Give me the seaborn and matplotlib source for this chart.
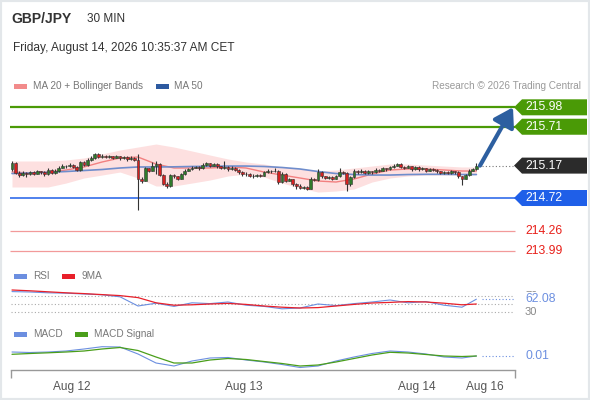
import numpy as np
import matplotlib
matplotlib.use("Agg")
import matplotlib.pyplot as plt
from matplotlib.patches import Polygon, Rectangle
import seaborn as sns

# ============================================
# DATA - GBP/JPY 30 min candles
# ============================================

opens = [215.12, 215.21, 215.07, 215.04, 215.07, 215.05, 215.08, 215.06, 215.09, 215.08,
         215.05, 215.11, 215.07, 215.10, 215.14, 215.17, 215.16, 215.18, 215.15, 215.11,
         215.22, 215.18, 215.25, 215.27, 215.33, 215.29, 215.31, 215.29, 215.30, 215.28,
         215.30, 215.27, 215.29, 215.26, 215.28, 215.25, 214.98, 214.96, 215.13, 215.10,
         215.17, 215.19, 215.04, 214.92, 214.89, 215.04, 215.02, 214.99, 215.05, 215.10,
         215.12, 215.14, 215.15, 215.13, 215.18, 215.20, 215.17, 215.19, 215.16, 215.13,
         215.15, 215.12, 215.14, 215.11, 215.08, 215.05, 215.06, 215.03, 215.02, 215.04,
         215.03, 215.08, 215.10, 215.09, 215.10, 214.94, 215.06, 214.96, 214.98, 214.92,
         214.88, 214.86, 214.87, 214.85, 214.99, 214.97, 215.08, 215.02, 215.00, 215.01,
         214.99, 215.02, 215.08, 215.07, 214.91, 215.01, 215.10, 215.08, 215.10, 215.07,
         215.09, 215.08, 215.11, 215.10, 215.13, 215.12, 215.15, 215.17, 215.19, 215.15,
         215.14, 215.16, 215.12, 215.15, 215.12, 215.13, 215.10, 215.12, 215.11, 215.09,
         215.07, 215.08, 215.07, 215.09, 215.08, 215.02, 214.99, 215.04, 215.10, 215.12]
highs = [215.23, 215.22, 215.09, 215.09, 215.08, 215.10, 215.09, 215.11, 215.10, 215.09,
         215.13, 215.12, 215.12, 215.16, 215.19, 215.18, 215.20, 215.19, 215.16, 215.24,
         215.23, 215.27, 215.30, 215.35, 215.34, 215.33, 215.32, 215.32, 215.31, 215.32,
         215.31, 215.31, 215.30, 215.30, 215.29, 215.33, 215.01, 215.15, 215.14, 215.22,
         215.24, 215.21, 215.05, 214.94, 215.06, 215.06, 215.03, 215.07, 215.12, 215.14,
         215.16, 215.17, 215.16, 215.21, 215.22, 215.21, 215.21, 215.20, 215.17, 215.24,
         215.16, 215.16, 215.15, 215.12, 215.09, 215.08, 215.07, 215.05, 215.06, 215.05,
         215.10, 215.12, 215.11, 215.14, 215.11, 215.08, 215.07, 215.00, 214.99, 214.93,
         214.92, 214.89, 214.88, 215.01, 215.00, 215.12, 215.09, 215.03, 215.03, 215.02,
         215.04, 215.13, 215.10, 215.08, 215.03, 215.12, 215.11, 215.12, 215.11, 215.11,
         215.10, 215.13, 215.12, 215.15, 215.14, 215.17, 215.19, 215.21, 215.20, 215.16,
         215.18, 215.17, 215.17, 215.16, 215.15, 215.14, 215.14, 215.13, 215.12, 215.10,
         215.10, 215.09, 215.11, 215.10, 215.09, 215.03, 215.06, 215.12, 215.14, 215.21]
lows = [215.10, 215.05, 215.01, 215.02, 215.01, 215.04, 215.04, 215.05, 215.06, 215.03,
        215.04, 215.06, 215.06, 215.08, 215.13, 215.14, 215.15, 215.14, 215.09, 215.10,
        215.16, 215.17, 215.24, 215.26, 215.28, 215.27, 215.27, 215.28, 215.26, 215.27,
        215.25, 215.26, 215.24, 215.25, 215.24, 214.56, 214.93, 214.95, 215.08, 215.09,
        215.05, 215.02, 214.90, 214.86, 214.87, 215.00, 214.97, 214.98, 215.04, 215.09,
        215.11, 215.13, 215.11, 215.12, 215.16, 215.15, 215.16, 215.14, 215.12, 215.12,
        215.10, 215.11, 215.09, 215.06, 215.03, 215.03, 215.01, 215.00, 215.01, 215.01,
        215.02, 215.07, 215.07, 215.08, 214.91, 214.93, 214.94, 214.95, 214.89, 214.85,
        214.84, 214.85, 214.83, 214.84, 214.95, 214.96, 215.00, 214.98, 214.99, 214.97,
        214.98, 215.01, 215.05, 214.82, 214.89, 215.00, 215.06, 215.07, 215.05, 215.06,
        215.06, 215.07, 215.08, 215.09, 215.10, 215.11, 215.14, 215.16, 215.13, 215.12,
        215.13, 215.10, 215.11, 215.10, 215.11, 215.08, 215.09, 215.09, 215.07, 215.05,
        215.06, 215.05, 215.06, 215.06, 215.00, 214.90, 214.98, 215.03, 215.09, 215.11]
closes = [215.21, 215.07, 215.04, 215.07, 215.05, 215.08, 215.06, 215.09, 215.08, 215.05,
          215.11, 215.07, 215.10, 215.14, 215.17, 215.16, 215.18, 215.15, 215.11, 215.22,
          215.18, 215.25, 215.27, 215.33, 215.29, 215.31, 215.29, 215.30, 215.28, 215.30,
          215.27, 215.29, 215.26, 215.28, 215.25, 214.98, 214.96, 215.13, 215.10, 215.17,
          215.19, 215.04, 214.92, 214.89, 215.04, 215.02, 214.99, 215.05, 215.10, 215.12,
          215.14, 215.15, 215.13, 215.18, 215.20, 215.17, 215.19, 215.16, 215.13, 215.15,
          215.12, 215.14, 215.11, 215.08, 215.05, 215.06, 215.03, 215.02, 215.04, 215.03,
          215.08, 215.10, 215.09, 215.10, 214.94, 215.06, 214.96, 214.98, 214.92, 214.88,
          214.86, 214.87, 214.85, 214.99, 214.97, 215.08, 215.02, 215.00, 215.01, 214.99,
          215.02, 215.08, 215.07, 214.91, 215.01, 215.10, 215.08, 215.10, 215.07, 215.09,
          215.08, 215.11, 215.10, 215.13, 215.12, 215.15, 215.17, 215.19, 215.15, 215.14,
          215.16, 215.12, 215.15, 215.12, 215.13, 215.10, 215.12, 215.11, 215.09, 215.07,
          215.08, 215.07, 215.09, 215.08, 215.02, 214.99, 215.04, 215.10, 215.12, 215.17]

# indicators, sampled every 5 candles
ma_idx = [0, 5, 10, 15, 20, 25, 30, 35, 40, 45, 50, 55, 60, 65, 70, 75, 80, 85, 90,
          95, 100, 105, 110, 115, 120, 125, 129]
ma20 = [215.081, 215.067, 215.081, 215.109, 215.151, 215.220, 215.276, 215.289, 215.192,
        215.137, 215.137, 215.137, 215.151, 215.137, 215.081, 215.039, 214.998, 214.956,
        214.942, 214.984, 215.053, 215.109, 215.123, 215.123, 215.109, 215.095, 215.095]
bb_upper = [215.234, 215.234, 215.234, 215.248, 215.276, 215.331, 215.387, 215.428, 215.470,
            215.428, 215.373, 215.317, 215.262, 215.220, 215.192, 215.151, 215.123, 215.095,
            215.109, 215.137, 215.164, 215.192, 215.192, 215.178, 215.164, 215.151, 215.151]
bb_lower = [214.873, 214.873, 214.873, 214.928, 214.998, 215.039, 215.081, 214.998, 214.887,
            214.887, 214.928, 214.970, 215.026, 215.053, 215.012, 214.928, 214.859, 214.803,
            214.817, 214.845, 214.942, 214.998, 215.026, 215.039, 215.039, 215.039, 215.053]
ma50 = [215.060, 215.067, 215.077, 215.088, 215.102, 215.116, 215.137, 215.151, 215.151,
        215.153, 215.158, 215.160, 215.164, 215.164, 215.158, 215.144, 215.123, 215.088,
        215.060, 215.046, 215.039, 215.039, 215.046, 215.049, 215.049, 215.046, 215.046]

rsi = [81, 80, 78, 77, 75, 73, 68, 45, 52, 44, 53, 51, 55, 47, 44, 38, 40, 50, 46, 51,
       55, 60, 53, 56, 47, 42, 62.08]
rsi_ma9 = [85, 83, 80.5, 78, 76, 73.5, 71, 66, 53, 47, 48, 50, 51.5, 49, 45, 42, 40, 41,
           45, 49, 52.5, 54, 56, 55, 52, 48, 50]
macd = [0.030, 0.0275, 0.030, 0.035, 0.045, 0.0565, 0.055, 0.020, -0.025, -0.040, -0.015,
        0.000, 0.0025, -0.010, -0.020, -0.0325, -0.0475, -0.040, -0.015, 0.005, 0.0225,
        0.035, 0.030, 0.020, 0.005, 0.000, 0.010]
macd_signal = [0.0185, 0.0225, 0.026, 0.030, 0.035, 0.045, 0.0525, 0.0375, 0.005, -0.025,
               -0.025, -0.010, -0.0025, -0.0075, -0.0175, -0.0275, -0.040, -0.035, -0.020,
               -0.0025, 0.015, 0.0285, 0.025, 0.0175, 0.010, 0.0075, 0.010]

date_ticks = [16.5, 64.5, 112.5, 131.4]
date_labels = ["Aug 12", "Aug 13", "Aug 14", "Aug 16"]

resistances = [215.98, 215.71]
last_price = 215.17
pivot = 214.72
supports = [214.26, 213.99]
rsi_levels = [70, 50, 30]
rsi_last = 62.08
macd_last = 0.01

# ============================================
# STYLE / LAYOUT
# ============================================

sns.set_theme(style="white")
plt.rcParams["font.family"] = ["Liberation Sans", "DejaVu Sans"]

GREEN = "#2f7a2a"
RED = "#d42020"
LVL_GREEN = "#4a9a06"
LVL_BLUE = "#1f5fe8"
LVL_RED = "#f29a9a"
DARK = "#2b2b2b"
RSI_BLUE = "#6c8fe0"
TXT = "#333333"

W, H = 590, 400
X0, STEP = 12, 3.6          # pixel of first candle, pixels per candle


def xi(px):
    return (px - X0) / STEP


def fy(py):
    return 1 - py / H


fig = plt.figure(figsize=(W / 100, H / 100), dpi=100)
fig.patch.set_facecolor("white")
fig.add_artist(Rectangle((0, 0), 1, 1, transform=fig.transFigure, fill=False,
                         edgecolor="#e3e7ea", linewidth=3))

# ---- header ----
fig.text(11 / W, fy(19), "GBP/JPY", fontsize=10, fontweight="bold", color=TXT, va="center")
fig.text(87 / W, fy(19), "30 MIN", fontsize=8.5, color=TXT, va="center")
fig.text(13 / W, fy(48.5), "Friday, August 14, 2026 10:35:37 AM CET", fontsize=8.6,
         color=TXT, va="center")


def legend_item(px, py, color, label, text_px):
    fig.add_artist(Rectangle((px / W, fy(py + 2.5)), 13 / W, 5 / H, transform=fig.transFigure,
                             facecolor=color, edgecolor="none"))
    fig.text(text_px / W, fy(py), label, fontsize=7.2, color="#777777", va="center")


legend_item(14, 86, "#f28b8b", "MA 20 + Bollinger Bands", 33)
legend_item(156, 86, "#2d5aa0", "MA 50", 174)
fig.text(581 / W, fy(86), "Research \u00a9 2026 Trading Central", fontsize=7.2,
         color="#9a9a9a", va="center", ha="right")

# ============================================
# PRICE PANEL
# ============================================

P_TOP, P_BOT = 95, 262
ylo, yhi = 213.831, 216.151
ppu = (P_BOT - P_TOP) / (yhi - ylo)
ax = fig.add_axes([0, fy(P_BOT), 1, (P_BOT - P_TOP) / H])
ax.set_xlim(xi(0), xi(W))
ax.set_ylim(ylo, yhi)
ax.axis("off")

ax.fill_between(ma_idx, bb_lower, bb_upper, color="#fde0e0", linewidth=0, zorder=1)
sns.lineplot(x=ma_idx, y=ma20, ax=ax, color="#f28080", linewidth=1.0, zorder=2)
sns.lineplot(x=ma_idx, y=ma50, ax=ax, color="#6f8dcc", linewidth=1.2, zorder=2)

o = np.array(opens)
c = np.array(closes)
idx = np.arange(len(c))
colors = np.where(c >= o, GREEN, RED)
ax.vlines(idx, lows, highs, color="#333333", linewidth=0.8, zorder=3)
ax.bar(idx, np.maximum(np.abs(c - o), 0.006), bottom=np.minimum(o, c), width=0.8,
       color=colors, edgecolor="#333333", linewidth=0.4, zorder=4)

ax.hlines(resistances, xi(10), xi(515), color=LVL_GREEN, linewidth=1.6, zorder=2)
ax.hlines(pivot, xi(10), xi(515), color=LVL_BLUE, linewidth=1.1, zorder=2)
ax.hlines(supports, xi(10), xi(515), color=LVL_RED, linewidth=0.9, zorder=2)
ax.hlines(last_price, xi(482), xi(513), color="#777777", linewidth=0.8,
          linestyles=(0, (1, 2)), zorder=2)

tr = ax.get_yaxis_transform()


def tag(price, color):
    hh = 8 / ppu
    pts = [(514 / W, price), (522 / W, price + hh), (587 / W, price + hh),
           (587 / W, price - hh), (522 / W, price - hh)]
    ax.add_patch(Polygon(pts, closed=True, transform=tr, facecolor=color,
                         edgecolor="none", clip_on=False, zorder=5))
    ax.text(525 / W, price, f"{price:.2f}", transform=tr, color="white", fontsize=8.7,
            va="center", ha="left", zorder=6)


for r in resistances:
    tag(r, LVL_GREEN)
tag(last_price, DARK)
tag(pivot, LVL_BLUE)
for s in supports:
    ax.text(525 / W, s, f"{s:.2f}", transform=tr, color="#e8201a", fontsize=8.7,
            va="center", ha="left")

ax.annotate("", xy=(xi(513), resistances[0]), xytext=(len(c), last_price),
            arrowprops=dict(arrowstyle="-|>,head_length=0.8,head_width=0.5",
                            color="#2d5fa0", lw=3, mutation_scale=14,
                            shrinkA=0, shrinkB=0), zorder=7)

# ============================================
# RSI PANEL
# ============================================

R_TOP, R_BOT = 286, 318
ax_rsi = fig.add_axes([0, fy(R_BOT), 1, (R_BOT - R_TOP) / H])
ax_rsi.set_xlim(xi(0), xi(W))
ax_rsi.set_ylim(15, 95)
ax_rsi.axis("off")
ax_rsi.hlines(rsi_levels, xi(11), xi(514), color="#aaaaaa", linewidth=0.8,
              linestyles=(0, (1, 2)))
sns.lineplot(x=ma_idx, y=rsi, ax=ax_rsi, color=RSI_BLUE, linewidth=0.8)
sns.lineplot(x=ma_idx, y=rsi_ma9, ax=ax_rsi, color="#e8202a", linewidth=0.9)
ax_rsi.hlines(rsi_last, xi(482), xi(514), color=RSI_BLUE, linewidth=0.8,
              linestyles=(0, (1, 2)))
tr_r = ax_rsi.get_yaxis_transform()
ax_rsi.text(525 / W, rsi_levels[0], "70", transform=tr_r, color="#888888", fontsize=8,
            va="center")
ax_rsi.text(525 / W, rsi_levels[2], "30", transform=tr_r, color="#888888", fontsize=8,
            va="center")
ax_rsi.text(525 / W, rsi_last, f"{rsi_last:.2f}", transform=tr_r, color=RSI_BLUE,
            fontsize=8.7, va="center",
            bbox=dict(facecolor="white", edgecolor="none", pad=1.0))

legend_item(14, 276, RSI_BLUE, "RSI", 33)
legend_item(62, 276, "#e8202a", "9MA", 82)

# ============================================
# MACD PANEL + DATE AXIS
# ============================================

M_TOP, M_BOT = 338, 370
ax_m = fig.add_axes([0, fy(M_BOT), 1, (M_BOT - M_TOP) / H])
ax_m.set_xlim(xi(0), xi(W))
ax_m.set_ylim(-0.06, 0.10)
ax_m.set_facecolor("none")
sns.lineplot(x=ma_idx, y=macd, ax=ax_m, color=RSI_BLUE, linewidth=0.8)
sns.lineplot(x=ma_idx, y=macd_signal, ax=ax_m, color="#4a9e1a", linewidth=0.9)
ax_m.hlines(macd_last, xi(482), xi(514), color=RSI_BLUE, linewidth=0.8,
            linestyles=(0, (1, 2)))
ax_m.text(525 / W, macd_last, f"{macd_last:.2f}", transform=ax_m.get_yaxis_transform(),
          color=RSI_BLUE, fontsize=8.7, va="center")

for side in ["top", "left", "right"]:
    ax_m.spines[side].set_visible(False)
ax_m.spines["bottom"].set_color("#999999")
ax_m.spines["bottom"].set_linewidth(1)
ax_m.spines["bottom"].set_bounds(xi(11), xi(515))
ax_m.set_yticks([])
ax_m.set_xticks(date_ticks)
ax_m.set_xticklabels(date_labels, fontsize=8.6, color="#555555")
ax_m.set_xticks([xi(11), xi(515)], minor=True)
ax_m.tick_params(axis="x", which="major", length=0, pad=8)
ax_m.tick_params(axis="x", which="minor", length=6, width=1, color="#999999", bottom=True)

legend_item(14, 334, RSI_BLUE, "MACD", 33)
legend_item(75, 334, "#4a9e1a", "MACD Signal", 94)

fig.savefig("out.png", dpi=100)
